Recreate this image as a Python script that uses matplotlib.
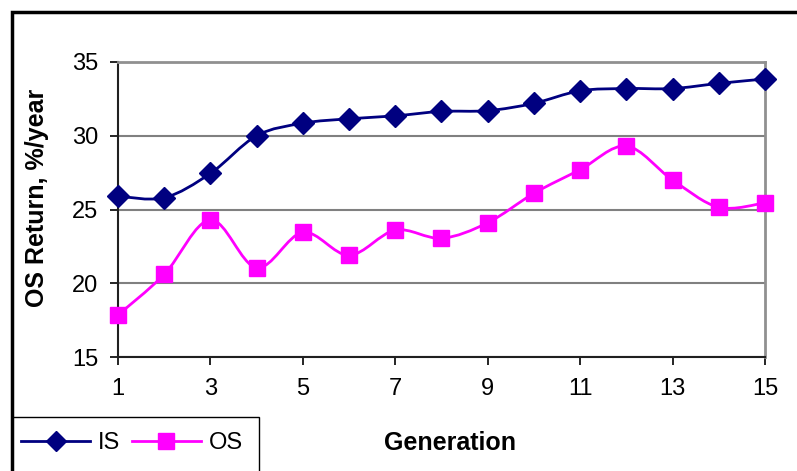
import numpy as np
import matplotlib
matplotlib.use('Agg')
from matplotlib import pyplot as plt
from matplotlib.path import Path
from matplotlib.patches import PathPatch, Rectangle
from matplotlib.lines import Line2D

plt.rcParams['font.family'] = ['Liberation Sans', 'DejaVu Sans']

## data
generation = [1, 2, 3, 4, 5, 6, 7, 8, 9, 10, 11, 12, 13, 14, 15]
is_return = [25.9, 25.8, 27.45, 30.0, 30.85, 31.15, 31.35, 31.65, 31.7, 32.2,
             33.05, 33.2, 33.2, 33.55, 33.85]
os_return = [17.85, 20.6, 24.3, 21.05, 23.45, 21.9, 23.6, 23.05, 24.1, 26.1,
             27.7, 29.3, 27.0, 25.15, 25.45]
xticks = [1, 3, 5, 7, 9, 11, 13, 15]
yticks = [15, 20, 25, 30, 35]

W, H = 797, 471
fig = plt.figure(figsize=(W/100, H/100), dpi=100)
ax = fig.add_axes([118/W, 1-357/H, (765-118)/W, (357-62)/H])


def smooth_path(x, y):
    # Excel-like smoothed line: cubic Bezier segments through the points
    x = np.asarray(x, float)
    y = np.asarray(y, float)
    n = len(x)
    verts = [(x[0], y[0])]
    codes = [Path.MOVETO]
    for i in range(n-1):
        i0 = max(i-1, 0)
        i3 = min(i+2, n-1)
        c1 = (x[i] + (x[i+1]-x[i0])/6, y[i] + (y[i+1]-y[i0])/6)
        c2 = (x[i+1] - (x[i3]-x[i])/6, y[i+1] - (y[i3]-y[i])/6)
        verts += [c1, c2, (x[i+1], y[i+1])]
        codes += [Path.CURVE4]*3
    return Path(verts, codes)


navy = '#000080'
magenta = '#FF00FF'

for ys, col, mk, ms in [(is_return, navy, 'D', 11), (os_return, magenta, 's', 12)]:
    ax.add_patch(PathPatch(smooth_path(generation, ys), fill=False,
                           edgecolor=col, lw=2, zorder=3))
    ax.plot(generation, ys, linestyle='none', marker=mk, ms=ms,
            color=col, mec=col, zorder=4, clip_on=False)

ax.set_xlim(1, 15)
ax.set_ylim(15, 35)
ax.set_xticks(xticks)
ax.set_yticks(yticks)
ax.tick_params(axis='both', labelsize=17, length=6, width=1.2, direction='out',
               color='black')
ax.tick_params(axis='x', pad=9)
ax.tick_params(axis='y', pad=8)
ax.grid(axis='y', color='#808080', lw=1.5)
ax.set_axisbelow(True)
for s in ['top', 'right']:
    ax.spines[s].set_color('#909090')
    ax.spines[s].set_linewidth(2)
for s in ['left', 'bottom']:
    ax.spines[s].set_color('#202020')
    ax.spines[s].set_linewidth(1.5)

fig.text(37/W, 1-198/H, 'OS Return, %/year', rotation=90, fontsize=18,
         fontweight='bold', ha='center', va='center')
fig.text(450/W, 1-443/H, 'Generation', fontsize=18, fontweight='bold',
         ha='center', va='center')

# outer chart border
fig.patches.append(Rectangle((12/W, -0.1), 1.0, 1-12/H+0.1, transform=fig.transFigure,
                             fill=False, edgecolor='black', lw=2.5, clip_on=False))
# legend box
fig.patches.append(Rectangle((12/W, -0.1), (259-12)/W, 1-417/H+0.1,
                             transform=fig.transFigure, fill=False,
                             edgecolor='black', lw=1, clip_on=False))

handles = [Line2D([], [], color=navy, lw=2, marker='D', ms=10),
           Line2D([], [], color=magenta, lw=2, marker='s', ms=12)]
fig.legend(handles, ['IS', 'OS'], loc='center left',
           bbox_to_anchor=(19/W, 1-443/H), ncol=2, frameon=False, fontsize=17,
           handlelength=2.9, handletextpad=0.35, columnspacing=0.5,
           borderaxespad=0, borderpad=0.1)

fig.savefig('out.png', dpi=100)
